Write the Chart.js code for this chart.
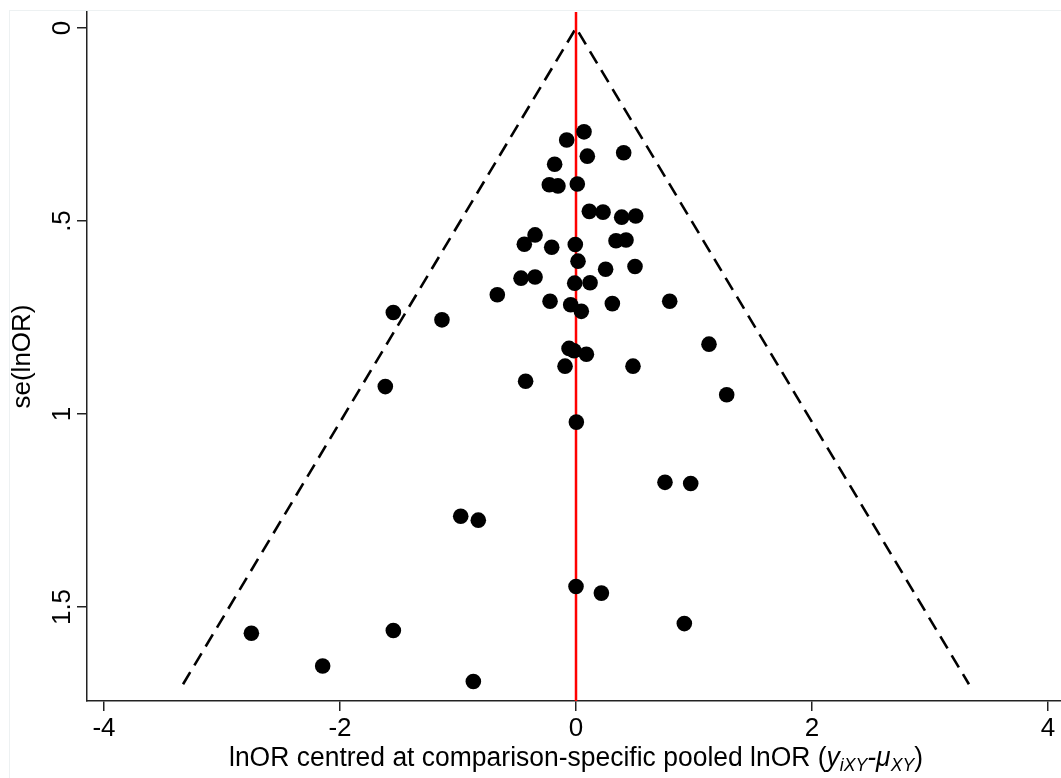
<!DOCTYPE html>
<html>
<head>
<meta charset="utf-8">
<script src="https://cdn.jsdelivr.net/npm/chart.js@4.4.1/dist/chart.umd.min.js"></script>
<style>
  html, body { margin: 0; padding: 0; background: #fff; }
  #wrap { position: relative; width: 1061px; height: 778px; }
  #frame { position: absolute; left: 9px; top: 10px; right: 0; bottom: 0;
           border-left: 1px solid #edf1f2; border-top: 1px solid #edf1f2; }
  canvas { position: absolute; left: 0; top: 0; }
</style>
</head>
<body>
<div id="wrap">
  <div id="frame"></div>
  <canvas id="funnel" width="1061" height="778"></canvas>
</div>
<script>
/* Funnel plot: centred lnOR against its standard error */

// study points (x = centred lnOR, y = se(lnOR))
const centredLnOR = [
  0.068, -0.079, 0.404, 0.096, -0.181, -0.226, -0.153, 0.011, 0.113, 0.229,
  0.387, 0.506, -0.347, -0.438, -0.206, -0.006, 0.339, 0.424, 0.017, -0.466,
  -0.347, 0.251, 0.500, -0.011, 0.119, -0.667, -0.220, -0.045, 0.045, 0.308,
  0.794, -1.548, -1.136, -0.059, -0.017, 0.088, 1.127, -0.093, 0.483, -0.427,
  -1.616, 1.277, 0.003, 0.754, 0.972, -0.977, -0.828, 0.000, 0.215, 0.918,
  -1.548, -0.870, -2.751, -2.147
];
const seLnOR = [
  0.269, 0.290, 0.323, 0.332, 0.353, 0.406, 0.409, 0.404, 0.475, 0.477,
  0.490, 0.487, 0.536, 0.560, 0.568, 0.561, 0.551, 0.549, 0.604, 0.648,
  0.645, 0.625, 0.618, 0.661, 0.660, 0.691, 0.708, 0.717, 0.734, 0.714,
  0.708, 0.737, 0.756, 0.830, 0.836, 0.845, 0.819, 0.876, 0.876, 0.915,
  0.929, 0.950, 1.021, 1.177, 1.180, 1.265, 1.275, 1.447, 1.464, 1.543,
  1.561, 1.693, 1.568, 1.653
];

// pseudo 95% limits (dashed funnel)
const funnelX = [-3.33, 0, 3.33];
const funnelSe = [1.7, 0, 1.7];

// axes
const xTickValues = [-4, -2, 0, 2, 4];
const xTickLabels = ['-4', '-2', '0', '2', '4'];
const yTickValues = [0, 0.5, 1, 1.5];
const yTickLabels = ['0', '.5', '1', '1.5'];
const xRange = [-4.144, 4.110];
const yRange = [-0.0415, 1.7435];

const FONT = '"Liberation Sans", Arial, Helvetica, sans-serif';
const AXIS = '#222';

const points = centredLnOR.map((v, i) => ({x: v, y: seLnOR[i]}));
const funnel = funnelX.map((v, i) => ({x: v, y: funnelSe[i]}));
const nullLine = [{x: 0, y: yRange[0]}, {x: 0, y: yRange[1]}];

// y tick labels + both axis titles drawn rotated / with subscripts
const stataText = {
  id: 'stataText',
  afterDraw(chart) {
    const {ctx} = chart;
    const y = chart.scales.y;
    ctx.save();
    ctx.fillStyle = '#000';
    ctx.textAlign = 'center';
    ctx.textBaseline = 'alphabetic';

    ctx.font = '26px ' + FONT;
    yTickValues.forEach((v, i) => {
      ctx.save();
      ctx.translate(70, y.getPixelForValue(v));
      ctx.rotate(-Math.PI / 2);
      ctx.fillText(yTickLabels[i], 0, 0);
      ctx.restore();
    });

    // y title
    ctx.font = '26px ' + FONT;
    ctx.save();
    ctx.translate(30, (chart.chartArea.top + chart.chartArea.bottom) / 2);
    ctx.rotate(-Math.PI / 2);
    ctx.fillText('se(lnOR)', 0, 0);
    ctx.restore();

    // x title with italic subscripts
    const segs = [
      {t: 'lnOR centred at comparison-specific pooled lnOR (', f: '27px ' + FONT, dy: 0},
      {t: 'y', f: 'italic 27px ' + FONT, dy: 0},
      {t: 'iXY', f: 'italic 18px ' + FONT, dy: 5},
      {t: '-', f: 'italic 27px ' + FONT, dy: 0},
      {t: 'μ', f: 'italic 27px ' + FONT, dy: 0},
      {t: 'XY', f: 'italic 18px ' + FONT, dy: 5},
      {t: ')', f: '27px ' + FONT, dy: 0}
    ];
    let total = 0;
    segs.forEach(s => { ctx.font = s.f; s.w = ctx.measureText(s.t).width; total += s.w; });
    const targetW = 694;
    const sx = targetW / total;
    ctx.save();
    ctx.translate(576 - targetW / 2, 766);
    ctx.scale(sx, 1);
    ctx.textAlign = 'left';
    let cx = 0;
    segs.forEach(s => { ctx.font = s.f; ctx.fillText(s.t, cx, s.dy); cx += s.w; });
    ctx.restore();

    ctx.restore();
  }
};

new Chart(document.getElementById('funnel'), {
  type: 'scatter',
  data: {
    datasets: [
      {
        label: 'studies',
        data: points,
        order: 0,
        pointRadius: 7.8,
        pointHoverRadius: 7.8,
        backgroundColor: '#000',
        borderWidth: 0
      },
      {
        label: 'null',
        data: nullLine,
        order: 1,
        showLine: true,
        borderColor: '#ff0000',
        borderWidth: 2.5,
        pointRadius: 0
      },
      {
        label: 'pseudo 95% limits',
        data: funnel,
        order: 2,
        showLine: true,
        borderColor: '#000',
        borderWidth: 2.6,
        borderDash: [14, 8],
        pointRadius: 0,
        tension: 0
      }
    ]
  },
  options: {
    responsive: false,
    animation: false,
    layout: {autoPadding: false, padding: {top: 12, right: 0, left: 0, bottom: 0}},
    plugins: {legend: {display: false}, tooltip: {enabled: false}},
    scales: {
      x: {
        type: 'linear',
        min: xRange[0],
        max: xRange[1],
        afterBuildTicks: s => { s.ticks = xTickValues.map(v => ({value: v})); },
        afterFit: s => { s.height = 77; s.paddingLeft = 0; s.paddingRight = 0; },
        ticks: {
          color: '#000',
          font: {family: FONT, size: 26},
          padding: 2,
          maxRotation: 0,
          callback: v => xTickLabels[xTickValues.indexOf(v)]
        },
        grid: {drawOnChartArea: false, drawTicks: true, tickLength: 10, color: AXIS, lineWidth: 1.5},
        border: {display: true, color: AXIS, width: 1.5}
      },
      y: {
        type: 'linear',
        reverse: true,
        min: yRange[0],
        max: yRange[1],
        afterBuildTicks: s => { s.ticks = yTickValues.map(v => ({value: v})); },
        afterFit: s => { s.width = 87; s.paddingTop = 0; s.paddingBottom = 0; },
        ticks: {display: false},
        grid: {drawOnChartArea: false, drawTicks: true, tickLength: 10, color: AXIS, lineWidth: 1.5},
        border: {display: true, color: AXIS, width: 1.5}
      }
    }
  },
  plugins: [stataText]
});
</script>
</body>
</html>
